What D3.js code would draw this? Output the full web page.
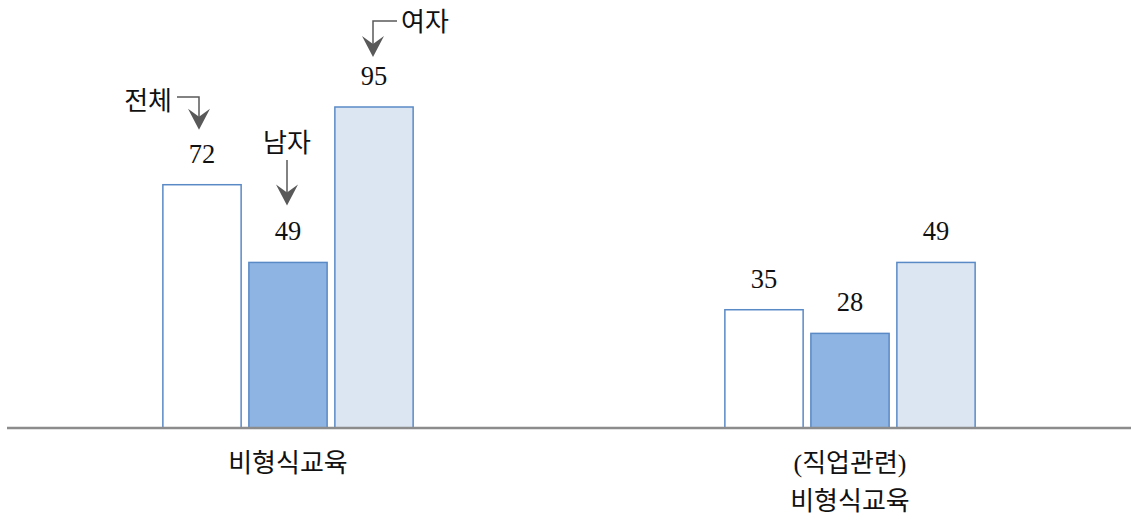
<!DOCTYPE html>
<html><head><meta charset="utf-8">
<script src="https://cdn.jsdelivr.net/npm/d3@7"></script>
<style>body{margin:0;background:#fff}svg{display:block}text{font-family:"Liberation Serif","Noto Sans CJK KR",serif;fill:#111}</style>
</head><body><svg id="c" width="1135" height="516"></svg>
<script>
const groups = ["비형식교육", "(직업관련)\n비형식교육"];
const series = ["전체", "남자", "여자"];
const values = [[72, 49, 95], [35, 28, 49]];
const fills = ["#ffffff", "#8eb4e3", "#dce6f2"];

const svg = d3.select("#c");
const x0 = d3.scaleBand().domain(groups).range([7, 1131]);
const x1 = d3.scaleBand().domain(series).range([-129, 129]).paddingInner(0.09).paddingOuter(0.045);
const y = d3.scaleLinear().domain([0, 95]).range([428, 107]);

const data = [];
groups.forEach((g, gi) => series.forEach((s, si) => data.push({g, s, si, v: values[gi][si]})));
const cx = g => x0(g) + x0.bandwidth() / 2;

svg.selectAll("rect.bar").data(data).join("rect")
  .attr("x", d => cx(d.g) + x1(d.s)).attr("width", x1.bandwidth())
  .attr("y", d => y(d.v)).attr("height", d => y(0) - y(d.v))
  .attr("fill", d => fills[d.si]).attr("stroke", "#5a8ac6").attr("stroke-width", 1.5);

svg.append("line").attr("x1", 7).attr("x2", 1131).attr("y1", y(0)).attr("y2", y(0))
  .attr("stroke", "#8c8c8c").attr("stroke-width", 2.5);

svg.selectAll("text.val").data(data).join("text")
  .attr("x", d => cx(d.g) + x1(d.s) + x1.bandwidth() / 2).attr("y", d => y(d.v) - 22)
  .attr("text-anchor", "middle").attr("font-size", 26.5).text(d => d.v);

groups.forEach(g => {
  const lines = g.split("\n");
  lines.forEach((l, i) => svg.append("text").attr("x", cx(g)).attr("y", 472 + i * 38)
    .attr("text-anchor", "middle").attr("font-size", 26).text(l));
});

// annotation arrows for first group
const ac = "#595959";
function head(x, ty) {
  svg.append("path").attr("d", `M${x},${ty} L${x-11},${ty-21} L${x},${ty-13} L${x+11},${ty-21} Z`).attr("fill", ac);
}
const g0 = groups[0];
const bc = s => cx(g0) + x1(s) + x1.bandwidth() / 2;
// 전체
{
  const bx = bc("전체") - 3, ly = 97, tip = y(72) - 55;
  svg.append("path").attr("d", `M177,${ly} H${bx} V${tip-4}`).attr("fill", "none").attr("stroke", ac).attr("stroke-width", 1.5);
  head(bx, tip);
  svg.append("text").attr("x", 172).attr("y", 110).attr("text-anchor", "end").attr("font-size", 26).text("전체");
}
// 남자
{
  const bx = bc("남자") - 1, tip = y(49) - 57;
  svg.append("path").attr("d", `M${bx},160 V${tip-4}`).attr("fill", "none").attr("stroke", ac).attr("stroke-width", 1.5);
  head(bx, tip);
  svg.append("text").attr("x", bx).attr("y", 152).attr("text-anchor", "middle").attr("font-size", 26).text("남자");
}
// 여자
{
  const bx = bc("여자") - 1, tip = y(95) - 50;
  svg.append("path").attr("d", `M397,21 H${bx} V${tip-4}`).attr("fill", "none").attr("stroke", ac).attr("stroke-width", 1.5);
  head(bx, tip);
  svg.append("text").attr("x", 401).attr("y", 31).attr("font-size", 26).text("여자");
}
</script></body></html>
